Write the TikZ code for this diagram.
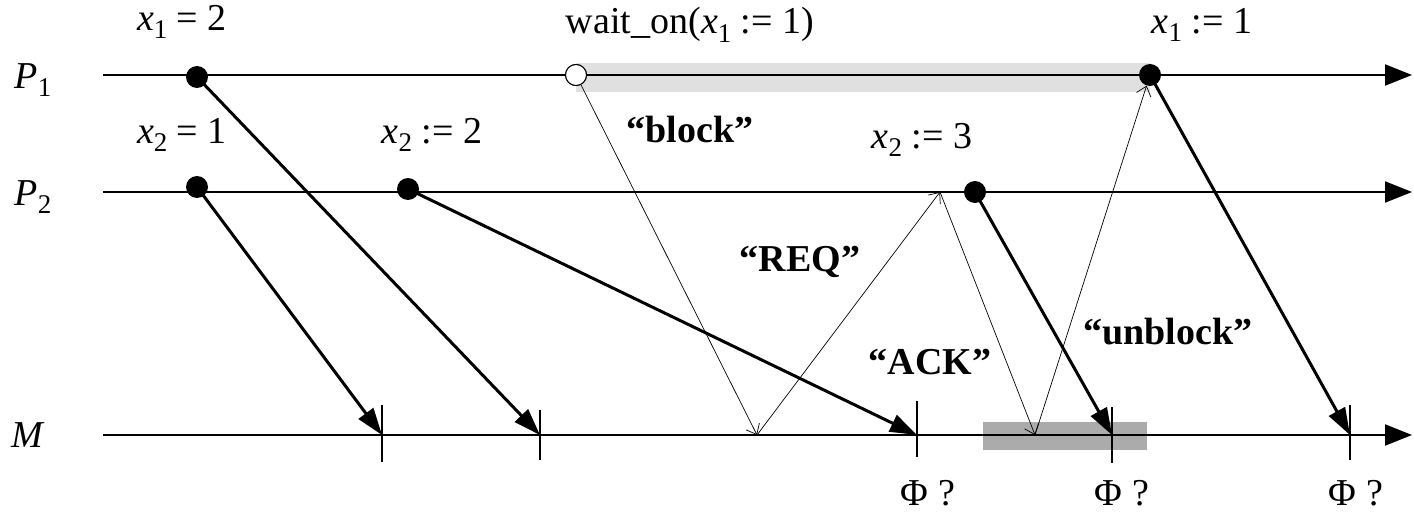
\documentclass[tikz,border=0pt]{standalone}
\usepackage{fontspec}
\setmainfont{Liberation Serif}
\usetikzlibrary{arrows.meta}
\newcommand\sbs[1]{\raisebox{-0.5ex}{\fontsize{27}{27}\selectfont #1}}
\begin{document}
\begin{tikzpicture}[x=1pt,y=-1pt,
  axis/.style={line width=2pt,-{Triangle[length=27pt,width=21pt]}},
  msg/.style={line width=3pt,-{Triangle[length=27pt,width=18pt]}},
  ctl/.style={line width=0.7pt,-{Straight Barb[length=9pt,width=15pt]}},
  dot/.style={circle,fill=black,inner sep=0pt,minimum size=22pt},
  odot/.style={circle,draw=black,fill=white,line width=1pt,inner sep=0pt,minimum size=21pt},
  tickmark/.style={line width=1.5pt},
  lbl/.style={font=\fontsize{38}{44}\selectfont,inner sep=0pt},
  blbl/.style={font=\fontsize{38}{44}\selectfont\bfseries,inner sep=0pt}]
\useasboundingbox (0,0) rectangle (1414,519);
% bands
\fill[black!12] (576,63) rectangle (1150,92);
\fill[black!33] (983,422) rectangle (1147,450);
% process lines
\node[lbl] (p1) at (33,80) {\textit{P}\sbs{1}};
\node[lbl] (p2) at (33,197) {\textit{P}\sbs{2}};
\node[lbl] (pm) at (28,435) {\textit{M}};
\coordinate (p1s) at (103,75); \coordinate (p1e) at (1412,75);
\coordinate (p2s) at (103,192); \coordinate (p2e) at (1412,192);
\coordinate (ms) at (103,435); \coordinate (me) at (1412,435);
\draw[axis] (p1s) -- (p1e);
\draw[axis] (p2s) -- (p2e);
\draw[axis] (ms) -- (me);
% ticks on M
\coordinate (t1) at (382,435); \draw[tickmark] (382,405) -- (382,462);
\coordinate (t2) at (540,435); \draw[tickmark] (540,410) -- (540,460);
\coordinate (t3) at (917,435); \draw[tickmark] (917,401) -- (917,457);
\coordinate (t4) at (1112,435); \draw[tickmark] (1112,407) -- (1112,463);
\coordinate (t5) at (1350,435); \draw[tickmark] (1350,405) -- (1350,460);
\coordinate (mb) at (757,435);
\coordinate (ma) at (1035,435);
\coordinate (pr) at (940,192);
% events
\node[dot] (a1) at (197,77) {};
\node[odot] (w1) at (576,75) {};
\node[dot] (c1) at (1150,75) {};
\node[dot] (a2) at (197,187) {};
\node[dot] (b2) at (408,189) {};
\node[dot] (c2) at (975,192) {};
% event labels
\node[lbl] (la1) at (182,22) {\textit{x}\sbs{1} = 2};
\node[lbl] (lw1) at (690,25) {wait\_on(\textit{x}\sbs{1} := 1)};
\node[lbl] (lc1) at (1202,25) {\textit{x}\sbs{1} := 1};
\node[lbl] (la2) at (182,135) {\textit{x}\sbs{2} = 1};
\node[lbl] (lb2) at (432,135) {\textit{x}\sbs{2} := 2};
\node[lbl] (lc2) at (922,140) {\textit{x}\sbs{2} := 3};
% thick messages
\draw[msg] (a1.center) -- (t2);
\draw[msg] (a2.center) -- (t1);
\draw[msg] (b2.center) -- (t3);
\draw[msg] (c2.center) -- (t4);
\draw[msg] (c1.center) -- (t5);
% thin control messages
\draw[ctl] (w1) -- (mb);
\draw[ctl] (mb) -- (pr);
\draw[ctl] (pr) -- (ma);
\draw[ctl] (ma) -- (c1);
% redraw open circle on top
\node[odot] at (w1) {};
% message labels
\node[blbl] (lblock) at (690,130) {“block”};
\node[blbl] (lreq) at (800,262) {“REQ”};
\node[blbl] (lack) at (930,362) {“ACK”};
\node[blbl] (lunb) at (1168,332) {“unblock”};
\node[lbl] (f1) at (928,493) {Φ ?};
\node[lbl] (f2) at (1122,493) {Φ ?};
\node[lbl] (f3) at (1356,493) {Φ ?};
\end{tikzpicture}
\end{document}
